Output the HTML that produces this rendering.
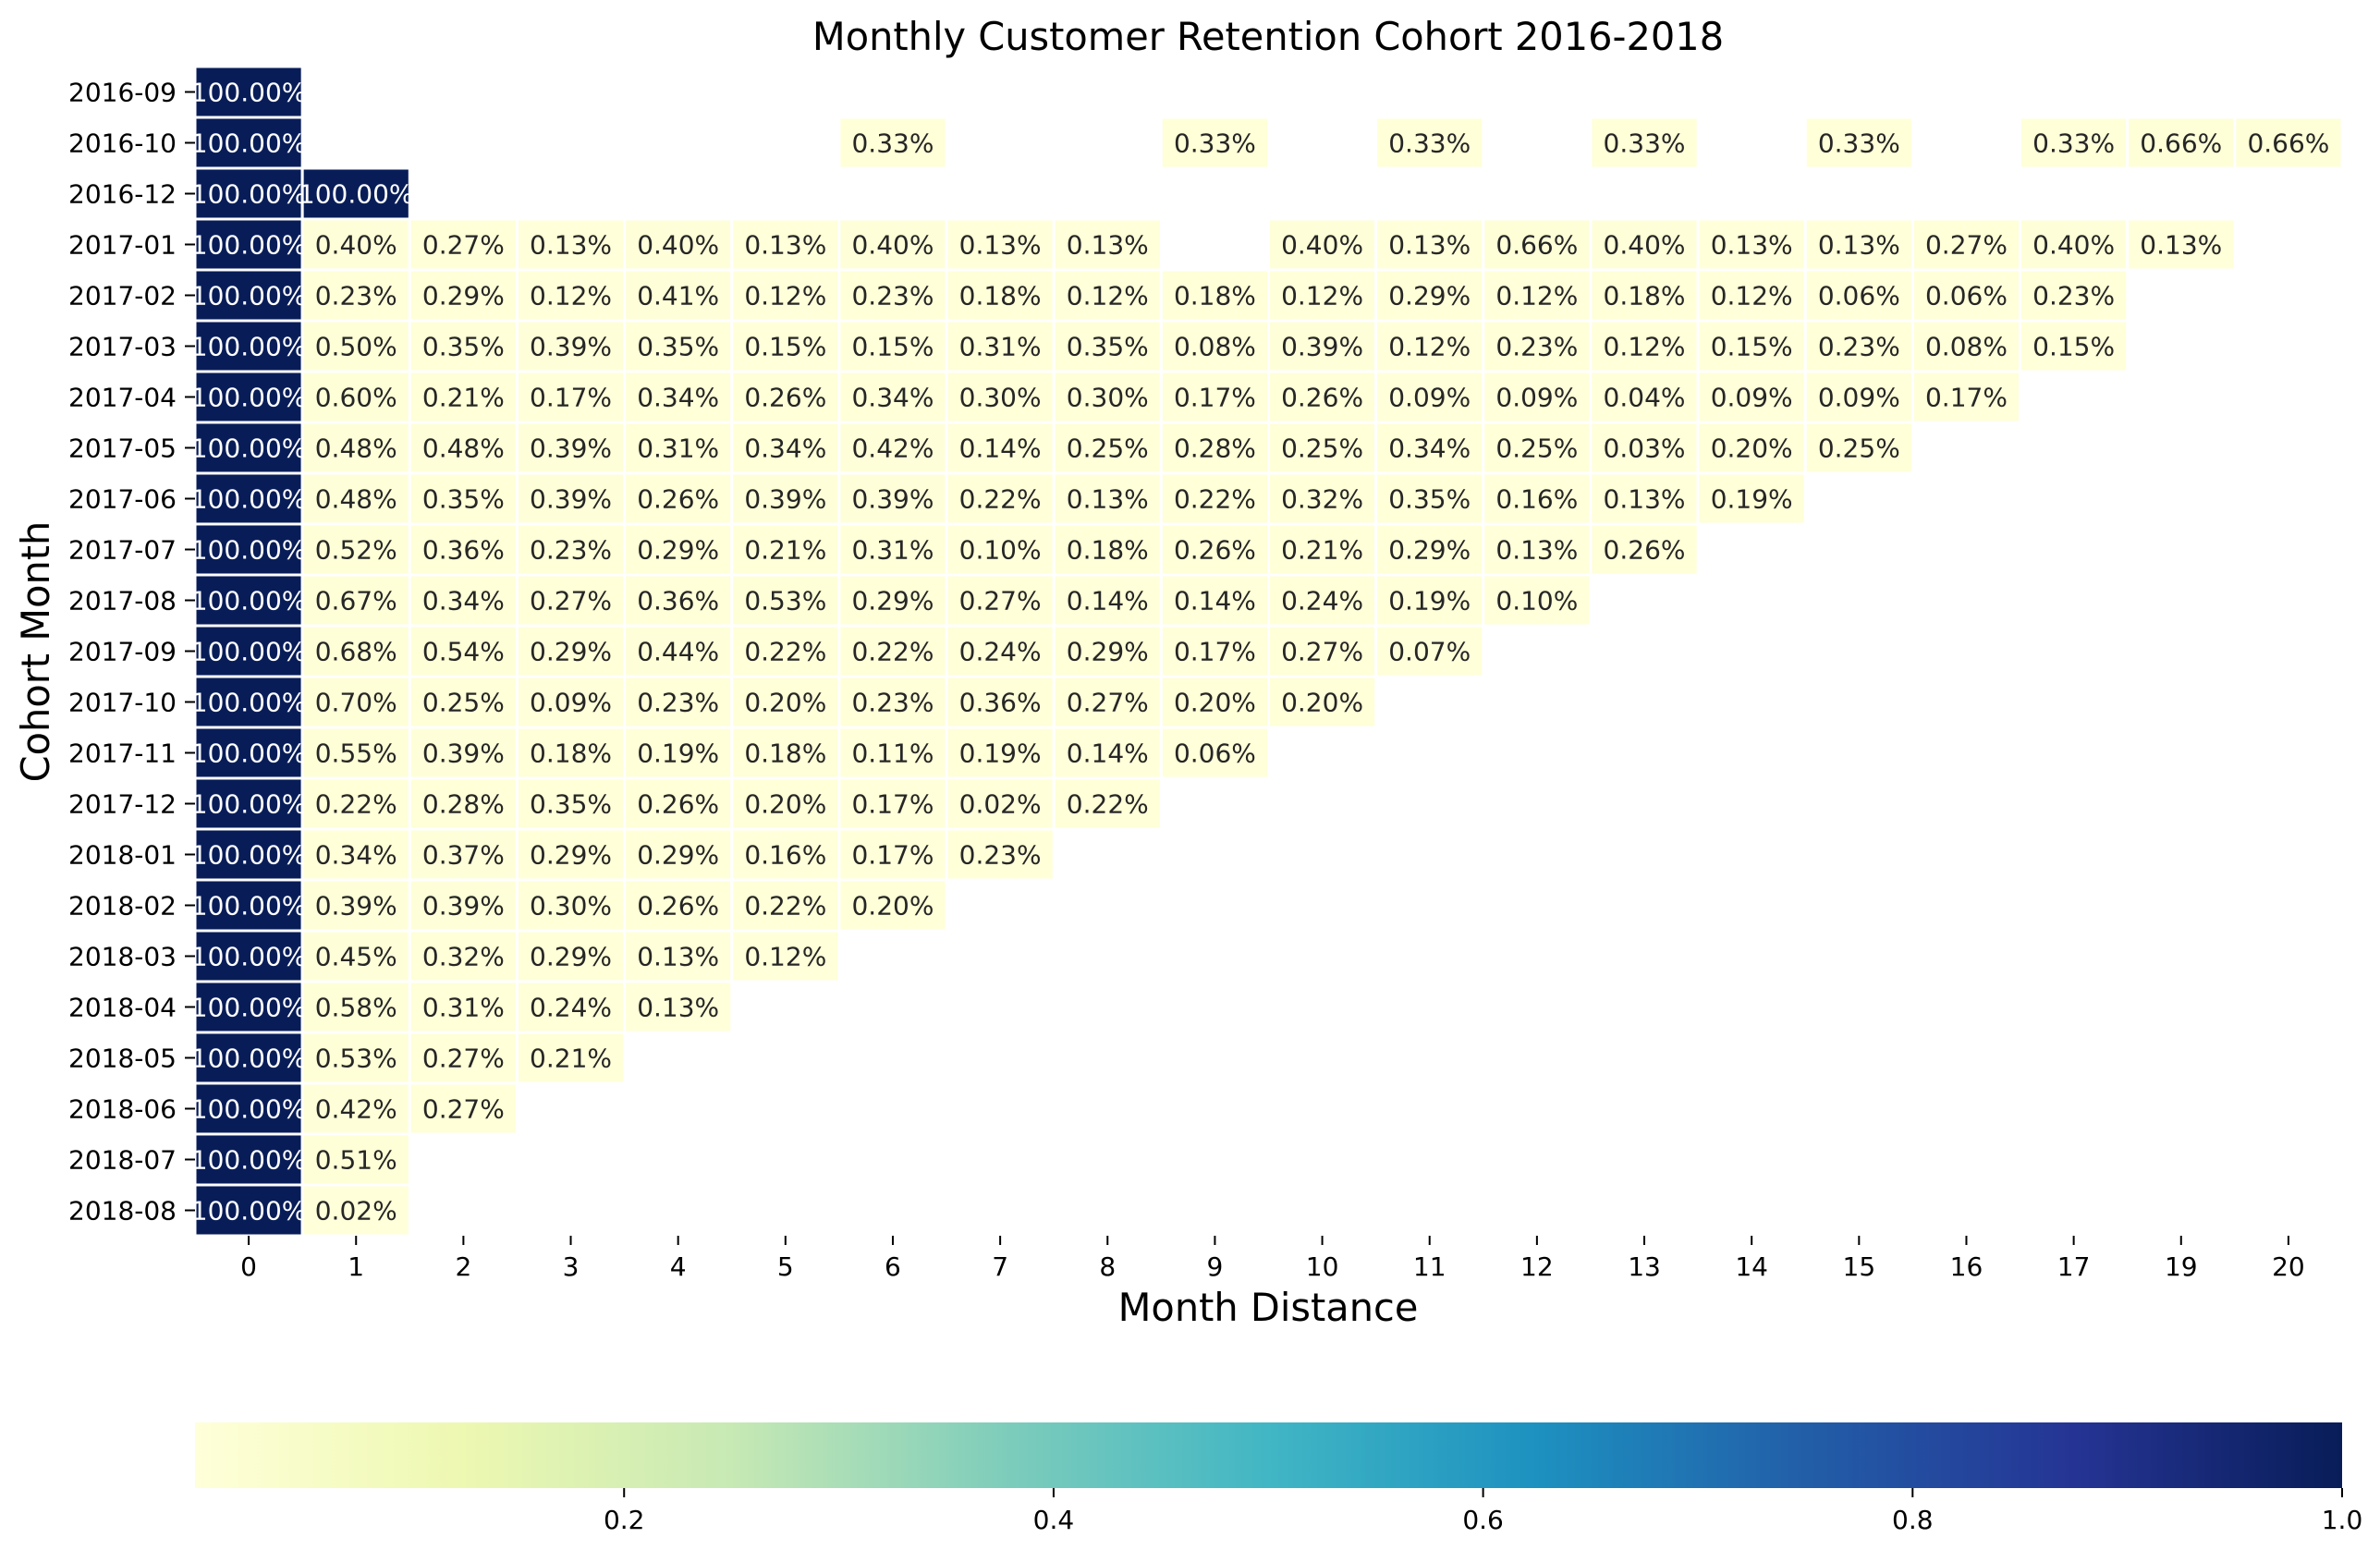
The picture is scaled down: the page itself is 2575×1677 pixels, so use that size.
<!DOCTYPE html>
<html><head><meta charset="utf-8">
<style>
html,body{margin:0;padding:0;background:#fff;}
svg{display:block;font-family:"DejaVu Sans","Liberation Sans",sans-serif;}
</style></head>
<body>
<svg id="chart" width="2575" height="1677" viewBox="0 0 2575 1677" xmlns="http://www.w3.org/2000/svg">
<defs>
<linearGradient id="cbgrad" x1="0" x2="1" y1="0" y2="0">
<stop offset="0" stop-color="#ffffd9"/><stop offset="0.125" stop-color="#edf8b1"/><stop offset="0.25" stop-color="#c7e9b4"/><stop offset="0.375" stop-color="#7fcdbb"/><stop offset="0.5" stop-color="#41b6c4"/><stop offset="0.625" stop-color="#1d91c0"/><stop offset="0.75" stop-color="#225ea8"/><stop offset="0.875" stop-color="#253494"/><stop offset="1" stop-color="#081d58"/>
</linearGradient>
</defs>
<text x="1372" y="54" font-size="41.5" text-anchor="middle" fill="#000">Monthly Customer Retention Cohort 2016-2018</text>
<text x="0" y="0" font-size="41.5" text-anchor="middle" fill="#000" transform="translate(53,705) rotate(-90)">Cohort Month</text>
<text x="1372" y="1429" font-size="41.5" text-anchor="middle" fill="#000">Month Distance</text>
<g id="cells"></g><g id="yticks"></g><g id="xticks"></g><g id="cbar"></g>
</svg>
<script>
const cohorts=["2016-09","2016-10","2016-12","2017-01","2017-02","2017-03","2017-04","2017-05","2017-06","2017-07","2017-08","2017-09","2017-10","2017-11","2017-12","2018-01","2018-02","2018-03","2018-04","2018-05","2018-06","2018-07","2018-08"];
const monthCols=[0,1,2,3,4,5,6,7,8,9,10,11,12,13,14,15,16,17,19,20];
const _=null;
// retention values in percent, indexed by monthCols
const retention=[
[100],
[100,_,_,_,_,_,0.33,_,_,0.33,_,0.33,_,0.33,_,0.33,_,0.33,0.66,0.66],
[100,100],
[100,0.40,0.27,0.13,0.40,0.13,0.40,0.13,0.13,_,0.40,0.13,0.66,0.40,0.13,0.13,0.27,0.40,0.13],
[100,0.23,0.29,0.12,0.41,0.12,0.23,0.18,0.12,0.18,0.12,0.29,0.12,0.18,0.12,0.06,0.06,0.23],
[100,0.50,0.35,0.39,0.35,0.15,0.15,0.31,0.35,0.08,0.39,0.12,0.23,0.12,0.15,0.23,0.08,0.15],
[100,0.60,0.21,0.17,0.34,0.26,0.34,0.30,0.30,0.17,0.26,0.09,0.09,0.04,0.09,0.09,0.17],
[100,0.48,0.48,0.39,0.31,0.34,0.42,0.14,0.25,0.28,0.25,0.34,0.25,0.03,0.20,0.25],
[100,0.48,0.35,0.39,0.26,0.39,0.39,0.22,0.13,0.22,0.32,0.35,0.16,0.13,0.19],
[100,0.52,0.36,0.23,0.29,0.21,0.31,0.10,0.18,0.26,0.21,0.29,0.13,0.26],
[100,0.67,0.34,0.27,0.36,0.53,0.29,0.27,0.14,0.14,0.24,0.19,0.10],
[100,0.68,0.54,0.29,0.44,0.22,0.22,0.24,0.29,0.17,0.27,0.07],
[100,0.70,0.25,0.09,0.23,0.20,0.23,0.36,0.27,0.20,0.20],
[100,0.55,0.39,0.18,0.19,0.18,0.11,0.19,0.14,0.06],
[100,0.22,0.28,0.35,0.26,0.20,0.17,0.02,0.22],
[100,0.34,0.37,0.29,0.29,0.16,0.17,0.23],
[100,0.39,0.39,0.30,0.26,0.22,0.20],
[100,0.45,0.32,0.29,0.13,0.12],
[100,0.58,0.31,0.24,0.13],
[100,0.53,0.27,0.21],
[100,0.42,0.27],
[100,0.51],
[100,0.02]
];
const cbTicks=[0.2,0.4,0.6,0.8,1.0];
const cbTickLabels=["0.2","0.4","0.6","0.8","1.0"];

const NS="http://www.w3.org/2000/svg";
const L=211,R=2534,T=72,RH=55;
const CW=(R-L)/monthCols.length;
const B=T+RH*cohorts.length;
const vmin=0.0002,vmax=1.0;
const stops=[[0,[255,255,217]],[0.125,[237,248,177]],[0.25,[199,233,180]],[0.375,[127,205,187]],[0.5,[65,182,196]],[0.625,[29,145,192]],[0.75,[34,94,168]],[0.875,[37,52,148]],[1,[8,29,88]]];
function xPos(i){return L+i*CW;}
function yPos(i){return T+i*RH;}
function color(v){let t=(v-vmin)/(vmax-vmin);t=Math.max(0,Math.min(1,t));
 for(let i=1;i<stops.length;i++){if(t<=stops[i][0]){const a=stops[i-1],b=stops[i];const f=(t-a[0])/(b[0]-a[0]);
 const c=a[1].map((x,k)=>Math.round(x+(b[1][k]-x)*f));return `rgb(${c[0]},${c[1]},${c[2]})`;}}return "rgb(8,29,88)";}
function mk(tag,attrs,parent){const e=document.createElementNS(NS,tag);for(const k in attrs)e.setAttribute(k,attrs[k]);parent.appendChild(e);return e;}
const cells=document.getElementById('cells');
retention.forEach((row,ri)=>{row.forEach((p,ci)=>{if(p===null||p===undefined)return;
 const v=p/100;
 const r=mk('rect',{x:xPos(ci),y:yPos(ri),width:CW,height:RH,fill:color(v),stroke:'#fff','stroke-width':3},cells);
 
 
 const t=mk('text',{x:xPos(ci)+CW/2,y:yPos(ri)+RH/2+10,'font-size':28,'text-anchor':'middle',fill:v>0.5?'#fff':'#262626'},cells);
 t.textContent=p.toFixed(2)+'%';
 
 
});});
const yt=document.getElementById('yticks');
cohorts.forEach((c,i)=>{const cy=yPos(i)+RH/2;
 const ln=mk('line',{x1:L-11,x2:L,y1:cy,y2:cy,stroke:'#000','stroke-width':2},yt);
 
 
 const t=mk('text',{x:L-20,y:cy+10,'font-size':28,'text-anchor':'end',fill:'#000'},yt);
 t.textContent=c;
 
 
});
const xt=document.getElementById('xticks');
monthCols.forEach((m,i)=>{const cx=xPos(i)+CW/2;
 const ln=mk('line',{x1:cx,x2:cx,y1:B,y2:B+10,stroke:'#000','stroke-width':2},xt);
 
 
 const t=mk('text',{x:cx,y:B+43,'font-size':28,'text-anchor':'middle',fill:'#000'},xt);
 t.textContent=String(m);
 
 
});
const cb=document.getElementById('cbar');
const CT=1539,CB=1610;
function cbX(v){return L+(v-vmin)/(vmax-vmin)*(R-L);}
const bar=mk('rect',{x:L,y:CT,width:R-L,height:CB-CT,fill:'url(#cbgrad)'},cb);


cbTicks.forEach((v,i)=>{const x=cbX(v);
 const ln=mk('line',{x1:x,x2:x,y1:CB,y2:CB+10,stroke:'#000','stroke-width':2},cb);
 
 
 const t=mk('text',{x:x,y:CB+44,'font-size':28,'text-anchor':'middle',fill:'#000'},cb);
 t.textContent=cbTickLabels[i];
 
 
});
</script>
</body></html>
